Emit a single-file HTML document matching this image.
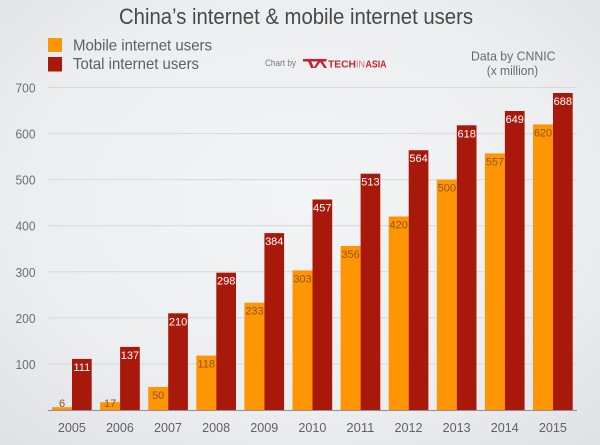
<!DOCTYPE html>
<html>
<head>
<meta charset="utf-8">
<style>
  html,body{margin:0;padding:0;}
  body{width:600px;height:445px;overflow:hidden;}
  svg{display:block;}
  text{font-family:"Liberation Sans",sans-serif;}
</style>
</head>
<body>
<svg width="600" height="445" viewBox="0 0 600 445" xmlns="http://www.w3.org/2000/svg">
  <defs>
    <radialGradient id="bg" cx="50%" cy="45%" r="75%">
      <stop offset="0" stop-color="#f3f4f6"/>
      <stop offset="0.6" stop-color="#eceef0"/>
      <stop offset="1" stop-color="#dfe1e5"/>
    </radialGradient>
  </defs>
  <rect x="0" y="0" width="600" height="445" fill="url(#bg)"/>

  <!-- Title -->
  <text x="119" y="24" font-size="22" fill="#484848" textLength="354" lengthAdjust="spacingAndGlyphs">China’s internet &amp; mobile internet users</text>

  <!-- Legend -->
  <rect x="48" y="38" width="14" height="14" fill="#fd9504"/>
  <rect x="48" y="57" width="14" height="14.5" fill="#a9190b"/>
  <text x="73" y="50.5" font-size="16" fill="#5e5e5e" textLength="139" lengthAdjust="spacingAndGlyphs">Mobile internet users</text>
  <text x="73" y="69" font-size="16" fill="#5e5e5e" textLength="126" lengthAdjust="spacingAndGlyphs">Total internet users</text>

  <!-- Chart by TechInAsia -->
  <text x="265" y="66" font-size="9" fill="#7a7a7a" textLength="31" lengthAdjust="spacingAndGlyphs">Chart by</text>
  <g fill="#c8202f">
    <polygon points="303,59 327,59 326,61.5 303,61.5"/>
    <polygon points="308,61 311,61 314,68 311,68"/>
    <polygon points="319,59.5 321.5,59.5 327,68 324.3,68 320.2,62 316,68 313.5,68"/>
  </g>
  <text x="328" y="67.5" font-size="10" font-weight="bold" fill="#c8202f" textLength="28" lengthAdjust="spacingAndGlyphs">TECH</text>
  <text x="356" y="67.5" font-size="10" fill="#e0707a" textLength="9" lengthAdjust="spacingAndGlyphs">IN</text>
  <text x="365.5" y="67.5" font-size="10" font-weight="bold" fill="#c8202f" textLength="21" lengthAdjust="spacingAndGlyphs">ASIA</text>

  <!-- Data by -->
  <text x="471" y="60.7" font-size="13" fill="#6a6a6a" textLength="84.5" lengthAdjust="spacingAndGlyphs">Data by CNNIC</text>
  <text x="486.7" y="75" font-size="13" fill="#6a6a6a" textLength="51.5" lengthAdjust="spacingAndGlyphs">(x million)</text>

  <!-- Gridlines -->
  <g stroke="#d6d8dc" stroke-width="1">
    <line x1="48" y1="87.5" x2="577" y2="87.5"/>
    <line x1="48" y1="133.6" x2="577" y2="133.6"/>
    <line x1="48" y1="179.6" x2="577" y2="179.6"/>
    <line x1="48" y1="225.7" x2="577" y2="225.7"/>
    <line x1="48" y1="271.8" x2="577" y2="271.8"/>
    <line x1="48" y1="317.9" x2="577" y2="317.9"/>
    <line x1="48" y1="363.9" x2="577" y2="363.9"/>
  </g>

  <!-- Y labels -->
  <g font-size="13" fill="#6e6e6e" text-anchor="end">
    <text x="35.5" y="92.5" textLength="20" lengthAdjust="spacingAndGlyphs">700</text>
    <text x="35.5" y="138.6" textLength="20" lengthAdjust="spacingAndGlyphs">600</text>
    <text x="35.5" y="184.6" textLength="20" lengthAdjust="spacingAndGlyphs">500</text>
    <text x="35.5" y="230.7" textLength="20" lengthAdjust="spacingAndGlyphs">400</text>
    <text x="35.5" y="276.8" textLength="20" lengthAdjust="spacingAndGlyphs">300</text>
    <text x="35.5" y="322.9" textLength="20" lengthAdjust="spacingAndGlyphs">200</text>
    <text x="35.5" y="368.9" textLength="20" lengthAdjust="spacingAndGlyphs">100</text>
  </g>

  <!-- Bars: orange (mobile) -->
  <g fill="#fd9504">
    <rect x="52" y="407.2" width="20" height="2.8"/>
    <rect x="100.1" y="402.2" width="20" height="7.8"/>
    <rect x="148.2" y="387.0" width="20" height="23.0"/>
    <rect x="196.3" y="355.6" width="20" height="54.4"/>
    <rect x="244.4" y="302.7" width="20" height="107.3"/>
    <rect x="292.5" y="270.4" width="20" height="139.6"/>
    <rect x="340.6" y="246.0" width="20" height="164.0"/>
    <rect x="388.7" y="216.5" width="20" height="193.5"/>
    <rect x="436.8" y="179.6" width="20" height="230.4"/>
    <rect x="484.9" y="153.4" width="20" height="256.6"/>
    <rect x="533" y="124.4" width="20" height="285.6"/>
  </g>
  <!-- Bars: red (total) -->
  <g fill="#a9190b">
    <rect x="72" y="358.9" width="19.7" height="51.1"/>
    <rect x="120.1" y="346.9" width="19.7" height="63.1"/>
    <rect x="168.2" y="313.3" width="19.7" height="96.7"/>
    <rect x="216.3" y="272.7" width="19.7" height="137.3"/>
    <rect x="264.4" y="233.1" width="19.7" height="176.9"/>
    <rect x="312.5" y="199.5" width="19.7" height="210.5"/>
    <rect x="360.6" y="173.7" width="19.7" height="236.3"/>
    <rect x="408.7" y="150.2" width="19.7" height="259.8"/>
    <rect x="456.8" y="125.3" width="19.7" height="284.7"/>
    <rect x="504.9" y="111.0" width="19.7" height="299.0"/>
    <rect x="553" y="93.0" width="19.7" height="317.0"/>
  </g>

  <!-- Axis line -->
  <line x1="48" y1="410.5" x2="577" y2="410.5" stroke="#8e9094" stroke-width="1"/>

  <!-- Orange value labels -->
  <g font-size="11" fill="#935610" text-anchor="middle">
    <text x="62" y="407">6</text>
    <text x="110.1" y="407">17</text>
    <text x="158.2" y="399">50</text>
    <text x="206.3" y="367.6">118</text>
    <text x="254.4" y="314.7">233</text>
    <text x="302.5" y="282.4">303</text>
    <text x="350.6" y="258">356</text>
    <text x="398.7" y="228.5">420</text>
    <text x="446.8" y="191.6">500</text>
    <text x="494.9" y="165.4">557</text>
    <text x="543" y="136.4">620</text>
  </g>
  <!-- Red value labels -->
  <g font-size="11" fill="#ffffff" text-anchor="middle">
    <text x="81.85" y="370.9">111</text>
    <text x="129.95" y="358.9">137</text>
    <text x="178.05" y="325.3">210</text>
    <text x="226.15" y="284.7">298</text>
    <text x="274.25" y="245.1">384</text>
    <text x="322.35" y="211.5">457</text>
    <text x="370.45" y="185.7">513</text>
    <text x="418.55" y="162.2">564</text>
    <text x="466.65" y="137.3">618</text>
    <text x="514.75" y="123">649</text>
    <text x="562.85" y="105">688</text>
  </g>

  <!-- Year labels -->
  <g font-size="13" fill="#626262" text-anchor="middle">
    <text x="71.85" y="432" textLength="28" lengthAdjust="spacingAndGlyphs">2005</text>
    <text x="119.95" y="432" textLength="28" lengthAdjust="spacingAndGlyphs">2006</text>
    <text x="168.05" y="432" textLength="28" lengthAdjust="spacingAndGlyphs">2007</text>
    <text x="216.15" y="432" textLength="28" lengthAdjust="spacingAndGlyphs">2008</text>
    <text x="264.25" y="432" textLength="28" lengthAdjust="spacingAndGlyphs">2009</text>
    <text x="312.35" y="432" textLength="28" lengthAdjust="spacingAndGlyphs">2010</text>
    <text x="360.45" y="432" textLength="28" lengthAdjust="spacingAndGlyphs">2011</text>
    <text x="408.55" y="432" textLength="28" lengthAdjust="spacingAndGlyphs">2012</text>
    <text x="456.65" y="432" textLength="28" lengthAdjust="spacingAndGlyphs">2013</text>
    <text x="504.75" y="432" textLength="28" lengthAdjust="spacingAndGlyphs">2014</text>
    <text x="552.85" y="432" textLength="28" lengthAdjust="spacingAndGlyphs">2015</text>
  </g>
</svg>
</body>
</html>
